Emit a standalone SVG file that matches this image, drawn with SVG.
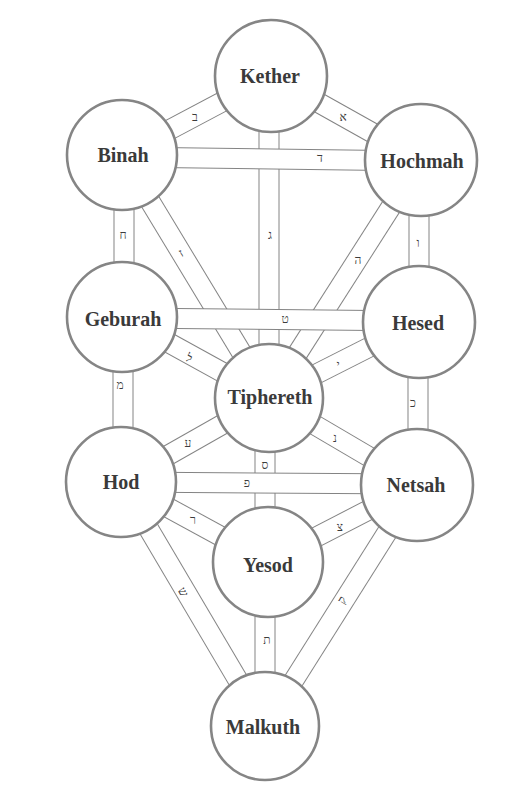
<svg xmlns="http://www.w3.org/2000/svg" width="530" height="800" viewBox="0 0 530 800">
<style>
.po{stroke:#848484;stroke-width:21;fill:none}
.pi{stroke:#ffffff;stroke-width:19;fill:none}
.node circle{fill:#ffffff;stroke:#858585;stroke-width:2.6}
.node text{font-family:"Liberation Serif","Times New Roman",serif;font-weight:bold;font-size:20px;fill:#3a3a3a;text-anchor:middle}
.lbl{font-family:"Liberation Serif","DejaVu Sans",serif;font-size:12px;fill:#3c3c3c;text-anchor:middle}
</style>
<rect width="530" height="800" fill="#ffffff"/>
<g id="connectors">
  <g id="p-kether-binah"><line class="po" x1="271" y1="76" x2="122" y2="155"/><line class="pi" x1="271" y1="76" x2="122" y2="155"/></g>
  <g id="p-kether-hochmah"><line class="po" x1="271" y1="76" x2="421" y2="160"/><line class="pi" x1="271" y1="76" x2="421" y2="160"/></g>
  <g id="p-kether-tiphereth"><line class="po" x1="269" y1="76" x2="269" y2="398"/><line class="pi" x1="269" y1="76" x2="269" y2="398"/></g>
  <g id="p-binah-geburah"><line class="po" x1="124" y1="155" x2="124" y2="317"/><line class="pi" x1="124" y1="155" x2="124" y2="317"/></g>
  <g id="p-binah-tiphereth"><line class="po" x1="122" y1="155" x2="269" y2="398"/><line class="pi" x1="122" y1="155" x2="269" y2="398"/></g>
  <g id="p-hochmah-tiphereth"><line class="po" x1="421" y1="160" x2="269" y2="398"/><line class="pi" x1="421" y1="160" x2="269" y2="398"/></g>
  <g id="p-hochmah-hesed"><line class="po" x1="419" y1="160" x2="419" y2="322"/><line class="pi" x1="419" y1="160" x2="419" y2="322"/></g>
  <g id="p-geburah-tiphereth"><line class="po" x1="122" y1="317" x2="269" y2="398"/><line class="pi" x1="122" y1="317" x2="269" y2="398"/></g>
  <g id="p-hesed-tiphereth"><line class="po" x1="419" y1="322" x2="269" y2="398"/><line class="pi" x1="419" y1="322" x2="269" y2="398"/></g>
  <g id="p-geburah-hod"><line class="po" x1="123" y1="317" x2="123" y2="482"/><line class="pi" x1="123" y1="317" x2="123" y2="482"/></g>
  <g id="p-hesed-netsah"><line class="po" x1="418" y1="322" x2="418" y2="485"/><line class="pi" x1="418" y1="322" x2="418" y2="485"/></g>
  <g id="p-tiphereth-hod"><line class="po" x1="269" y1="398" x2="121" y2="482"/><line class="pi" x1="269" y1="398" x2="121" y2="482"/></g>
  <g id="p-tiphereth-netsah"><line class="po" x1="269" y1="398" x2="417" y2="485"/><line class="pi" x1="269" y1="398" x2="417" y2="485"/></g>
  <g id="p-tiphereth-yesod"><line class="po" x1="265" y1="398" x2="265" y2="562"/><line class="pi" x1="265" y1="398" x2="265" y2="562"/></g>
  <g id="p-hod-yesod"><line class="po" x1="121" y1="482" x2="268" y2="562"/><line class="pi" x1="121" y1="482" x2="268" y2="562"/></g>
  <g id="p-netsah-yesod"><line class="po" x1="417" y1="485" x2="268" y2="562"/><line class="pi" x1="417" y1="485" x2="268" y2="562"/></g>
  <g id="p-hod-malkuth"><line class="po" x1="121" y1="482" x2="265" y2="726"/><line class="pi" x1="121" y1="482" x2="265" y2="726"/></g>
  <g id="p-netsah-malkuth"><line class="po" x1="417" y1="485" x2="265" y2="726"/><line class="pi" x1="417" y1="485" x2="265" y2="726"/></g>
  <g id="p-yesod-malkuth"><line class="po" x1="265" y1="562" x2="265" y2="726"/><line class="pi" x1="265" y1="562" x2="265" y2="726"/></g>
  <g id="p-binah-hochmah"><line class="po" x1="122" y1="157" x2="421" y2="161"/><line class="pi" x1="122" y1="157" x2="421" y2="161"/></g>
  <g id="p-geburah-hesed"><line class="po" x1="122" y1="318" x2="419" y2="321"/><line class="pi" x1="122" y1="318" x2="419" y2="321"/></g>
  <g id="p-hod-netsah"><line class="po" x1="121" y1="482" x2="417" y2="484"/><line class="pi" x1="121" y1="482" x2="417" y2="484"/></g>
</g>
<g id="path-labels">
  <text class="lbl" x="195" y="121">ב</text>
  <text class="lbl" x="343" y="121">א</text>
  <text class="lbl" x="320" y="162">ד</text>
  <text class="lbl" x="270" y="239">ג</text>
  <text class="lbl" x="123" y="239">ח</text>
  <text class="lbl" x="181" y="257" transform="rotate(-30 181 253)">ז</text>
  <text class="lbl" x="358" y="264">ה</text>
  <text class="lbl" x="418" y="247">ו</text>
  <text class="lbl" x="285" y="323">ט</text>
  <text class="lbl" x="189" y="362" transform="rotate(28 189 358)">ל</text>
  <text class="lbl" x="338" y="369">י</text>
  <text class="lbl" x="120" y="389">מ</text>
  <text class="lbl" x="413" y="407">כ</text>
  <text class="lbl" x="188" y="447">ע</text>
  <text class="lbl" x="335" y="442">נ</text>
  <text class="lbl" x="265" y="469">ס</text>
  <text class="lbl" x="247" y="487">פ</text>
  <text class="lbl" x="193" y="524">ר</text>
  <text class="lbl" x="340" y="531">צ</text>
  <text class="lbl" x="183" y="596" transform="rotate(60 183 592)">ש</text>
  <text class="lbl" x="342" y="604" transform="rotate(-60 342 600)">ק</text>
  <text class="lbl" x="267" y="644">ת</text>
</g>
<g id="kether" class="node"><circle cx="271" cy="76" r="56"/><text x="270" y="83">Kether</text></g>
<g id="binah" class="node"><circle cx="122" cy="155" r="55"/><text x="123" y="162">Binah</text></g>
<g id="hochmah" class="node"><circle cx="421" cy="160" r="56"/><text x="422" y="168">Hochmah</text></g>
<g id="geburah" class="node"><circle cx="122" cy="317" r="55"/><text x="123" y="326">Geburah</text></g>
<g id="hesed" class="node"><circle cx="419" cy="322" r="56"/><text x="418" y="330">Hesed</text></g>
<g id="tiphereth" class="node"><circle cx="269" cy="398" r="54"/><text x="270" y="404">Tiphereth</text></g>
<g id="hod" class="node"><circle cx="121" cy="482" r="55"/><text x="121" y="489">Hod</text></g>
<g id="netsah" class="node"><circle cx="417" cy="485" r="56"/><text x="416" y="492">Netsah</text></g>
<g id="yesod" class="node"><circle cx="268" cy="562" r="55"/><text x="268" y="572">Yesod</text></g>
<g id="malkuth" class="node"><circle cx="265" cy="726" r="54"/><text x="263" y="734">Malkuth</text></g>
</svg>
